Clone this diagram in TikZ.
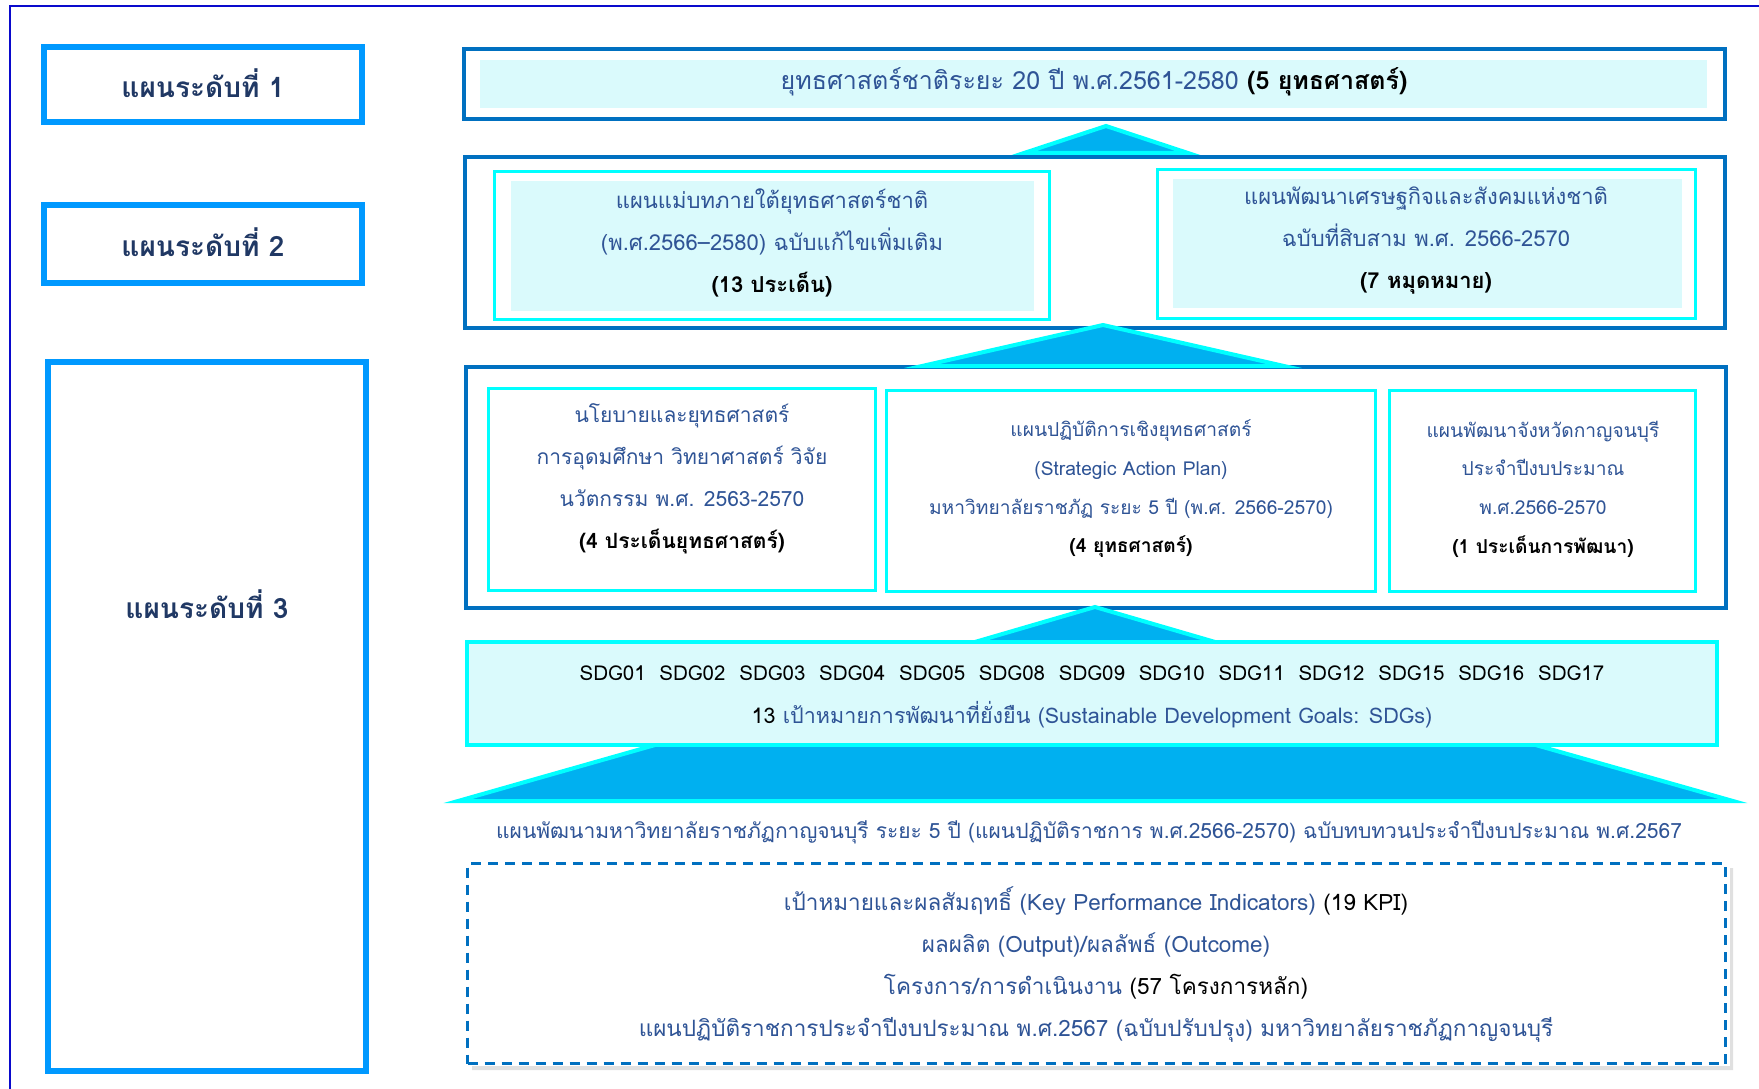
\documentclass[tikz,border=0pt]{standalone}
\usepackage{fontspec}
\setmainfont[Script=Thai]{Loma}
\definecolor{frameblue}{HTML}{0A0ACC}
\definecolor{lvlblue}{HTML}{0099FF}
\definecolor{boxblue}{HTML}{0070C0}
\definecolor{cyanline}{HTML}{00FFFF}
\definecolor{lightfill}{HTML}{DAFAFC}
\definecolor{trifill}{HTML}{00B0F0}
\definecolor{navy}{HTML}{2F5496}
\definecolor{darknavy}{HTML}{203864}
\newcommand{\bk}[1]{\textcolor{black}{#1}}
\newcommand{\bkb}[1]{\textcolor{black}{\bfseries #1}}
\tikzset{
  lvlbox/.style={draw=lvlblue, line width=6pt, inner sep=0pt},
  lvltext/.style={text=darknavy, font=\fontsize{28}{32}\selectfont\bfseries, inner sep=0pt},
  framebox/.style={draw=boxblue, line width=4pt, inner sep=0pt},
  panelbox/.style={draw=cyanline, line width=3pt, inner sep=0pt},
  bandbox/.style={fill=lightfill, inner sep=0pt},
  tri/.style={draw=cyanline, fill=trifill, line width=4pt, line join=miter},
  ptext/.style={text=navy, align=center, inner sep=0pt, font=\fontsize{22}{42}\selectfont},
  ptextmd/.style={text=navy, align=center, inner sep=0pt, font=\fontsize{21}{42}\selectfont},
  ptextsm/.style={text=navy, align=center, inner sep=0pt, font=\fontsize{19.2}{38.7}\selectfont},
  dashbox/.style={draw=boxblue, line width=3pt, dash pattern=on 10pt off 7pt, inner sep=0pt},
}
\begin{document}
\begin{tikzpicture}[x=1pt,y=-1pt]
\useasboundingbox (0,0) rectangle (1759,1089);
\fill[white] (0,0) rectangle (1759,1089);
% outer frame (only top and left edges visible)
\coordinate (fTL) at (10,6);
\coordinate (fTR) at (1759,6);
\coordinate (fBL) at (10,1089);
\draw[frameblue, line width=2.5pt] (fTR) -- (fTL) -- (fBL);

% level labels
\node[lvlbox, minimum width=318pt, minimum height=75pt] (l1) at (203,84.5) {};
\node[lvltext] (l1t) at (203,83) {แผนระดับที่ 1};
\node[lvlbox, minimum width=318pt, minimum height=78pt] (l2) at (203,244) {};
\node[lvltext] (l2t) at (203,242) {แผนระดับที่ 2};
\node[lvlbox, minimum width=318pt, minimum height=709pt] (l3) at (207,716.5) {};
\node[lvltext] (l3t) at (207,604) {แผนระดับที่ 3};

% level 1 plan
\node[framebox, minimum width=1261pt, minimum height=70pt] (top) at (1094.5,84) {};
\node[bandbox, minimum width=1227pt, minimum height=48pt] (topband) at (1093.5,84) {};
\node[ptext, font=\fontsize{25}{30}\selectfont] (toptext) at (1094,82) {ยุทธศาสตร์ชาติระยะ 20 ปี พ.ศ.2561-2580 \bkb{(5 ยุทธศาสตร์)}};

% level 2 plans
\node[framebox, minimum width=1260pt, minimum height=171pt] (mid) at (1095,242.5) {};
\node[panelbox, minimum width=555pt, minimum height=148pt] (p2a) at (772,245.5) {};
\node[bandbox, minimum width=523pt, minimum height=130pt] (p2aband) at (772.5,246) {};
\node[ptext] (p2atext) at (772,243) {แผนแม่บทภายใต้ยุทธศาสตร์ชาติ\\(พ.ศ.2566–2580) ฉบับแก้ไขเพิ่มเติม\\\bkb{(13 ประเด็น)}};
\node[panelbox, minimum width=538pt, minimum height=149pt] (p2b) at (1426.5,244) {};
\node[bandbox, minimum width=509pt, minimum height=129pt] (p2bband) at (1427.5,243.5) {};
\node[ptext] (p2btext) at (1426,241) {แผนพัฒนาเศรษฐกิจและสังคมแห่งชาติ\\ฉบับที่สิบสาม พ.ศ. 2566-2570\\\bkb{(7 หมุดหมาย)}};

% level 3 plans
\node[framebox, minimum width=1260pt, minimum height=241pt] (low) at (1096,487.5) {};
\node[panelbox, minimum width=387pt, minimum height=202pt] (p3a) at (682,489.5) {};
\node[ptextmd] (p3atext) at (682,479) {นโยบายและยุทธศาสตร์\\การอุดมศึกษา วิทยาศาสตร์ วิจัย\\นวัตกรรม พ.ศ. 2563-2570\\\bkb{(4 ประเด็นยุทธศาสตร์)}};
\node[panelbox, minimum width=489pt, minimum height=201pt] (p3b) at (1131,491) {};
\node[ptextsm] (p3btext) at (1131,489) {แผนปฏิบัติการเชิงยุทธศาสตร์\\(Strategic Action Plan)\\มหาวิทยาลัยราชภัฏ ระยะ 5 ปี (พ.ศ. 2566-2570)\\\bkb{(4 ยุทธศาสตร์)}};
\node[panelbox, minimum width=306pt, minimum height=201pt] (p3c) at (1542.5,491) {};
\node[ptextsm] (p3ctext) at (1543,489) {แผนพัฒนาจังหวัดกาญจนบุรี\\ประจำปีงบประมาณ\\พ.ศ.2566-2570\\\bkb{(1 ประเด็นการพัฒนา)}};

% upward triangles between levels (big one first, so the small one covers its apex)
\draw[tri] (1095,620) -- (1733,801) -- (458,801) -- cycle;
\draw[tri] (1106,126) -- (1188,153) -- (1024,153) -- cycle;
\draw[tri] (1103,325) -- (1284,366) -- (922,366) -- cycle;
\draw[tri] (1095,607) -- (1222,644) -- (968,644) -- cycle;

% SDG box
\node[panelbox, fill=lightfill, line width=3.5pt, minimum width=1250pt, minimum height=103pt] (sdg) at (1092,693.5) {};
\node[ptext, text=black, font=\fontsize{20.5}{42}\selectfont] (sdg1) at (1092,673) {SDG01~~SDG02~~SDG03~~SDG04~~SDG05~~SDG08~~SDG09~~SDG10~~SDG11~~SDG12~~SDG15~~SDG16~~SDG17};
\node[ptext, font=\fontsize{21.5}{42}\selectfont] (sdg2) at (1092,715) {\bk{13} เป้าหมายการพัฒนาที่ยั่งยืน (Sustainable Development Goals: SDGs)};

% university plan
\node[ptextmd] (uni) at (1089,832) {แผนพัฒนามหาวิทยาลัยราชภัฏกาญจนบุรี ระยะ 5 ปี (แผนปฏิบัติราชการ พ.ศ.2566-2570) ฉบับทบทวนประจำปีงบประมาณ พ.ศ.2567};

\fill[black!12] (1730,868) rectangle (1733,1070) (472,1066) rectangle (1733,1070);
\node[dashbox, fill=white, minimum width=1258pt, minimum height=200pt] (kpi) at (1096.5,963.5) {};
\node[ptext, font=\fontsize{22.5}{42}\selectfont] (kpitext) at (1096,965) {เป้าหมายและผลสัมฤทธิ์ (Key Performance Indicators) \bk{(19 KPI)}\\ผลผลิต (Output)/ผลลัพธ์ (Outcome)\\โครงการ/การดำเนินงาน \bk{(57 โครงการหลัก)}\\แผนปฏิบัติราชการประจำปีงบประมาณ พ.ศ.2567 (ฉบับปรับปรุง) มหาวิทยาลัยราชภัฏกาญจนบุรี};
\end{tikzpicture}
\end{document}
